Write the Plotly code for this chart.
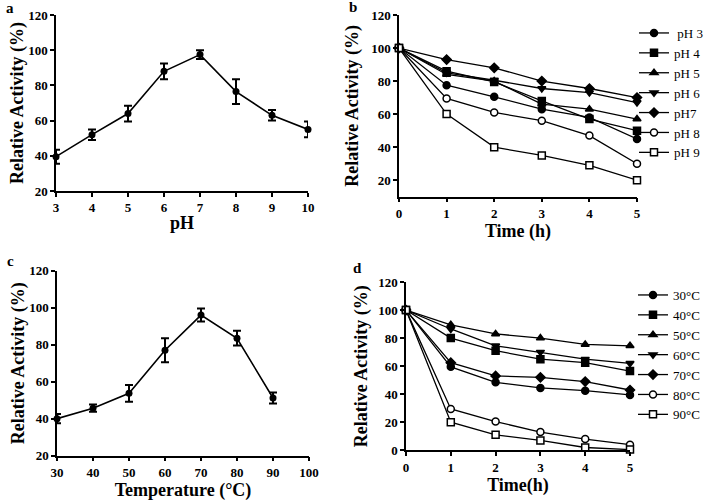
import plotly.graph_objects as go

# panel a: pH optimum
ph = [3, 4, 5, 6, 7, 8, 9, 10]
ph_activity = [39.5, 52, 64, 88, 97.5, 76.5, 63, 55]
ph_error = [4, 3, 4.5, 4.5, 2.5, 7, 3, 4.5]

# panel c: temperature optimum
temp = [30, 40, 50, 60, 70, 80, 90]
temp_activity = [40, 45.7, 53.7, 77, 96, 83.5, 51.2]
temp_error = [2.5, 2, 4.5, 6.5, 3.5, 4, 3]

# panel b: pH stability
hours = [0, 1, 2, 3, 4, 5]
ph_names = [" pH 3", "pH 4", "pH 5", "pH 6", "pH7", "pH 8", "pH 9"]
ph3 = [100, 77.5, 70.5, 63, 58, 45]
ph4 = [100, 86, 79.5, 68, 57, 50]
ph5 = [100, 84, 80, 66, 63, 57]
ph6 = [100, 85, 80.5, 75.5, 73, 67]
ph7 = [100, 93, 88, 80, 75.5, 70]
ph8 = [100, 69.5, 61, 56, 47, 30]
ph9 = [100, 60, 40, 35, 29, 20]

# panel d: thermal stability
temp_names = ["30°C", "40°C", "50°C", "60°C", "70°C", "80°C", "90°C"]
t30 = [100, 59.5, 48.5, 44.5, 42.5, 39.5]
t40 = [100, 80, 71, 65, 62.5, 56.5]
t50 = [100, 89.5, 83, 80, 75.5, 74.5]
t60 = [100, 86.5, 74.5, 70, 65, 62]
t70 = [100, 62.5, 53, 52, 49, 43]
t80 = [100, 29.5, 20.5, 13, 8, 4]
t90 = [100, 20, 11, 7, 2, 0.5]

FONT = "Liberation Serif"
symbols = ["circle", "square", "triangle-up", "triangle-down", "diamond", "circle", "square"]
fills = ["black"] * 5 + ["white", "white"]

fig = go.Figure()

fig.add_trace(go.Scatter(x=ph, y=ph_activity, mode="lines+markers",
                         line=dict(color="black", width=1.6),
                         marker=dict(color="black", size=7),
                         error_y=dict(type="data", array=ph_error, color="black", thickness=2, width=4),
                         cliponaxis=False, showlegend=False, xaxis="x", yaxis="y"))
fig.add_trace(go.Scatter(x=temp, y=temp_activity, mode="lines+markers",
                         line=dict(color="black", width=1.6),
                         marker=dict(color="black", size=7),
                         error_y=dict(type="data", array=temp_error, color="black", thickness=2, width=4),
                         cliponaxis=False, showlegend=False, xaxis="x3", yaxis="y3"))

for name, vals, sym, fill in zip(ph_names, [ph3, ph4, ph5, ph6, ph7, ph8, ph9], symbols, fills):
    fig.add_trace(go.Scatter(x=hours, y=vals, name=name, mode="lines+markers",
                             line=dict(color="black", width=1.3),
                             marker=dict(symbol=sym, color=fill, size=7,
                                         line=dict(color="black", width=1.5)),
                             cliponaxis=False, legend="legend", xaxis="x2", yaxis="y2"))

for name, vals, sym, fill in zip(temp_names, [t30, t40, t50, t60, t70, t80, t90], symbols, fills):
    fig.add_trace(go.Scatter(x=hours, y=vals, name=name, mode="lines+markers",
                             line=dict(color="black", width=1.3),
                             marker=dict(symbol=sym, color=fill, size=7,
                                         line=dict(color="black", width=1.5)),
                             cliponaxis=False, legend="legend2", xaxis="x4", yaxis="y4"))

tick_font = dict(family=FONT, size=13, color="black", weight="bold")
title_font = dict(family=FONT, size=18, color="black", weight="bold")
xtitle_font = dict(family=FONT, size=18, color="black", weight="bold")


def ax(**kw):
    base = dict(showline=True, linecolor="black", linewidth=1.5, ticks="outside",
                ticklen=4, tickwidth=1.5, tickcolor="black", showgrid=False,
                zeroline=False, tickfont=tick_font)
    base.update(kw)
    return base


W, H = 708, 504
fig.update_layout(
    width=W, height=H, margin=dict(l=0, r=0, t=0, b=0, autoexpand=False),
    paper_bgcolor="white", plot_bgcolor="white",
    xaxis=ax(domain=[56 / W, 308 / W], range=[3, 10], dtick=1, anchor="y",
             title=dict(text="pH", font=xtitle_font, standoff=2)),
    yaxis=ax(domain=[1 - 191 / H, 1 - 15 / H], range=[20, 120], dtick=20, anchor="x",
             title=dict(text="Relative Activity (%)", font=title_font, standoff=0)),
    xaxis2=ax(domain=[399 / W, 637 / W], range=[0, 5], dtick=1, anchor="y2",
              title=dict(text="Time (h)", font=xtitle_font, standoff=4)),
    yaxis2=ax(domain=[1 - 196.7 / H, 1 - 15 / H], range=[10, 120], tick0=0, dtick=20, anchor="x2",
              title=dict(text="Relative Activity (%)", font=title_font, standoff=8)),
    xaxis3=ax(domain=[57 / W, 309 / W], range=[30, 100], dtick=10, anchor="y3",
              title=dict(text="Temperature (°C)", font=xtitle_font, standoff=3)),
    yaxis3=ax(domain=[1 - 455.7 / H, 1 - 270.7 / H], range=[20, 120], dtick=20, anchor="x3",
              title=dict(text="Relative Activity (%)", font=title_font, standoff=0)),
    xaxis4=ax(domain=[406 / W, 630 / W], range=[0, 5], dtick=1, anchor="y4",
              title=dict(text="Time(h)", font=xtitle_font, standoff=3)),
    yaxis4=ax(domain=[1 - 450.3 / H, 1 - 282 / H], range=[0, 120], dtick=20, anchor="x4",
              title=dict(text="Relative Activity (%)", font=title_font, standoff=6)),
    legend=dict(x=634 / W, y=1 - 18 / H, xanchor="left", yanchor="top",
                font=dict(family=FONT, size=13, color="black"),
                bgcolor="rgba(0,0,0,0)", itemwidth=30, tracegroupgap=0),
    legend2=dict(x=633 / W, y=1 - 280 / H, xanchor="left", yanchor="top",
                 font=dict(family=FONT, size=13, color="black"),
                 bgcolor="rgba(0,0,0,0)", itemwidth=30, tracegroupgap=0),
)

for label, x, y in [("a", 10, 8), ("b", 353, 7), ("c", 10, 261), ("d", 357, 268)]:
    fig.add_annotation(text=label, x=x / W, y=1 - y / H, xref="paper", yref="paper",
                       showarrow=False, xanchor="center", yanchor="middle",
                       font=dict(family=FONT, size=15, color="black", weight="bold"))

# drop the browser's default body margin so the figure sits at the window corner
fig.write_html("out.html", config={"displayModeBar": False},
               post_script="document.body.style.margin = '0';")
